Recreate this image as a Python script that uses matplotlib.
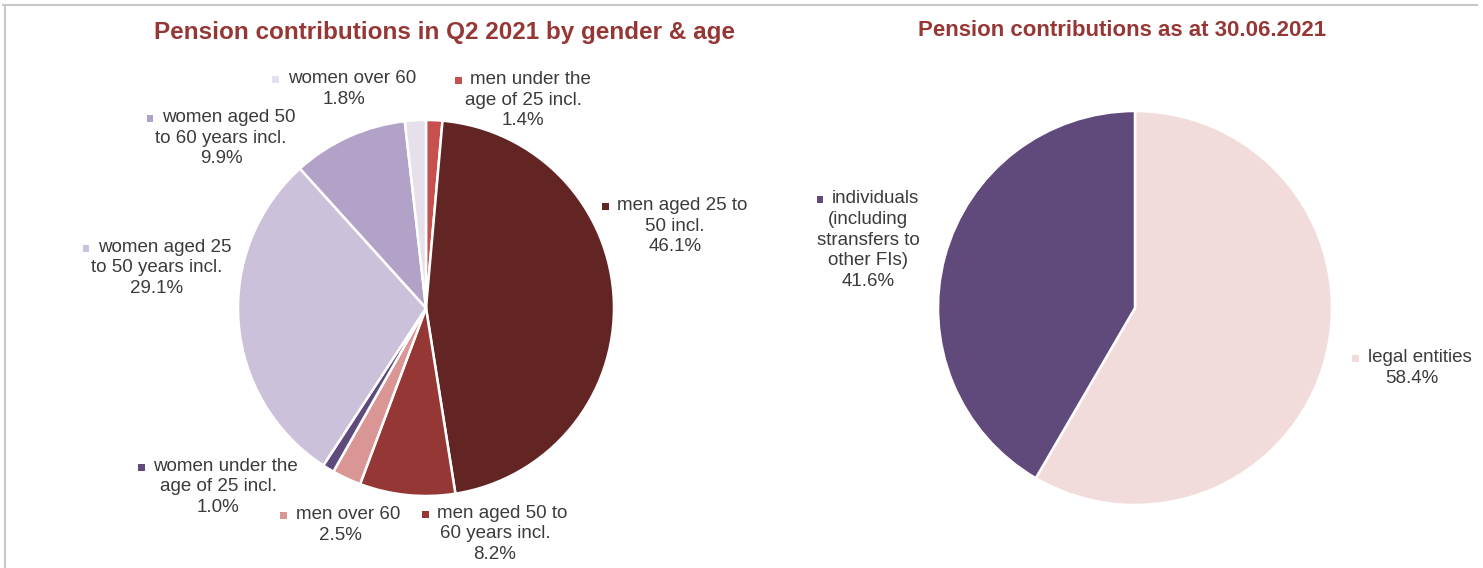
import matplotlib
matplotlib.use("Agg")
import matplotlib.pyplot as plt
from matplotlib.lines import Line2D
from matplotlib.patches import Rectangle
from matplotlib.offsetbox import (AnnotationBbox, DrawingArea, HPacker,
                                  TextArea, VPacker)

plt.rcParams['font.family'] = ['Liberation Sans', 'DejaVu Sans']

# ---------------- data ----------------
left_title = "Pension contributions in Q2 2021 by gender & age"
left_labels = [
    "men under the\nage of 25 incl.",
    "men aged 25 to\n50 incl.",
    "men aged 50 to\n60 years incl.",
    "men over 60",
    "women under the\nage of 25 incl.",
    "women aged 25\nto 50 years incl.",
    "women aged 50\nto 60 years incl.",
    "women over 60",
]
left_values = [1.4, 46.1, 8.2, 2.5, 1.0, 29.1, 9.9, 1.8]
left_colors = ["#c5504d", "#632523", "#953735", "#d99694",
               "#604a7b", "#ccc1da", "#b3a2c7", "#e6e0ec"]

right_title = "Pension contributions as at 30.06.2021"
right_labels = ["legal entities", "individuals\n(including\nstransfers to\nother FIs)"]
right_values = [58.4, 41.6]
right_colors = ["#f2dcdb", "#604a7b"]

# label block centres (in units of pie radius) - layout only
left_label_pos = [(0.516, 1.106), (1.324, 0.436), (0.367, -1.202),
                  (-0.457, -1.154), (-1.106, -0.952), (-1.431, 0.213),
                  (-1.090, 0.904), (-0.436, 1.165)]
right_label_pos = [(1.406, -0.305), (-1.355, 0.345)]

TEXT_COLOR = "#3b3b3b"
TITLE_COLOR = "#953735"
FS = 13.5

W, H = 1483, 568
fig = plt.figure(figsize=(W / 100, H / 100), dpi=100)
fig.patch.set_facecolor("white")


def make_axes(cx, cy, r):
    return fig.add_axes([(cx - r) / W, (H - cy - r) / H, 2 * r / W, 2 * r / H])


def label_box(text, value, color):
    lines = text.split("\n") + [f"{value:.1f}%"]
    da = DrawingArea(9, 9, 0, 0)
    da.add_artist(Rectangle((0, 1.5), 4.8, 4.8, facecolor=color, edgecolor="none"))
    tp = dict(fontsize=FS, color=TEXT_COLOR)
    first = HPacker(children=[da, TextArea(lines[0], textprops=tp)],
                    align="center", pad=0, sep=2)
    rest = [TextArea(l, textprops=tp) for l in lines[1:]]
    return VPacker(children=[first] + rest, align="center", pad=0, sep=2.6)


def draw_pie(ax, values, labels, colors, positions, title, title_xy, title_fs):
    ax.pie(values, colors=colors, startangle=90, counterclock=False,
           radius=1, wedgeprops=dict(edgecolor="white", linewidth=1.8))
    ax.set_xlim(-1, 1)
    ax.set_ylim(-1, 1)
    ax.set_aspect("equal")
    ax.axis("off")
    for lab, val, col, pos in zip(labels, values, colors, positions):
        box = label_box(lab, val, col)
        ab = AnnotationBbox(box, pos, xycoords="data", frameon=False,
                            box_alignment=(0.5, 0.5), annotation_clip=False)
        ax.add_artist(ab)
    fig.text(title_xy[0] / W, 1 - title_xy[1] / H, title, ha="center",
             va="center", fontsize=title_fs, fontweight="bold", color=TITLE_COLOR)


ax1 = make_axes(426, 308, 188)
draw_pie(ax1, left_values, left_labels, left_colors, left_label_pos,
         left_title, (445, 33), 17.5)

ax2 = make_axes(1135, 308, 197)
draw_pie(ax2, right_values, right_labels, right_colors, right_label_pos,
         right_title, (1122, 31), 16)

# panel frame
fig.add_artist(Line2D([3 / W, 1477 / W], [1 - 5 / H, 1 - 5 / H],
                      color="#c8c8c8", lw=1.5, transform=fig.transFigure))
fig.add_artist(Line2D([5 / W, 5 / W], [1 - 5 / H, 0],
                      color="#c8c8c8", lw=1.5, transform=fig.transFigure))

fig.savefig("out.png", dpi=100, facecolor="white")
